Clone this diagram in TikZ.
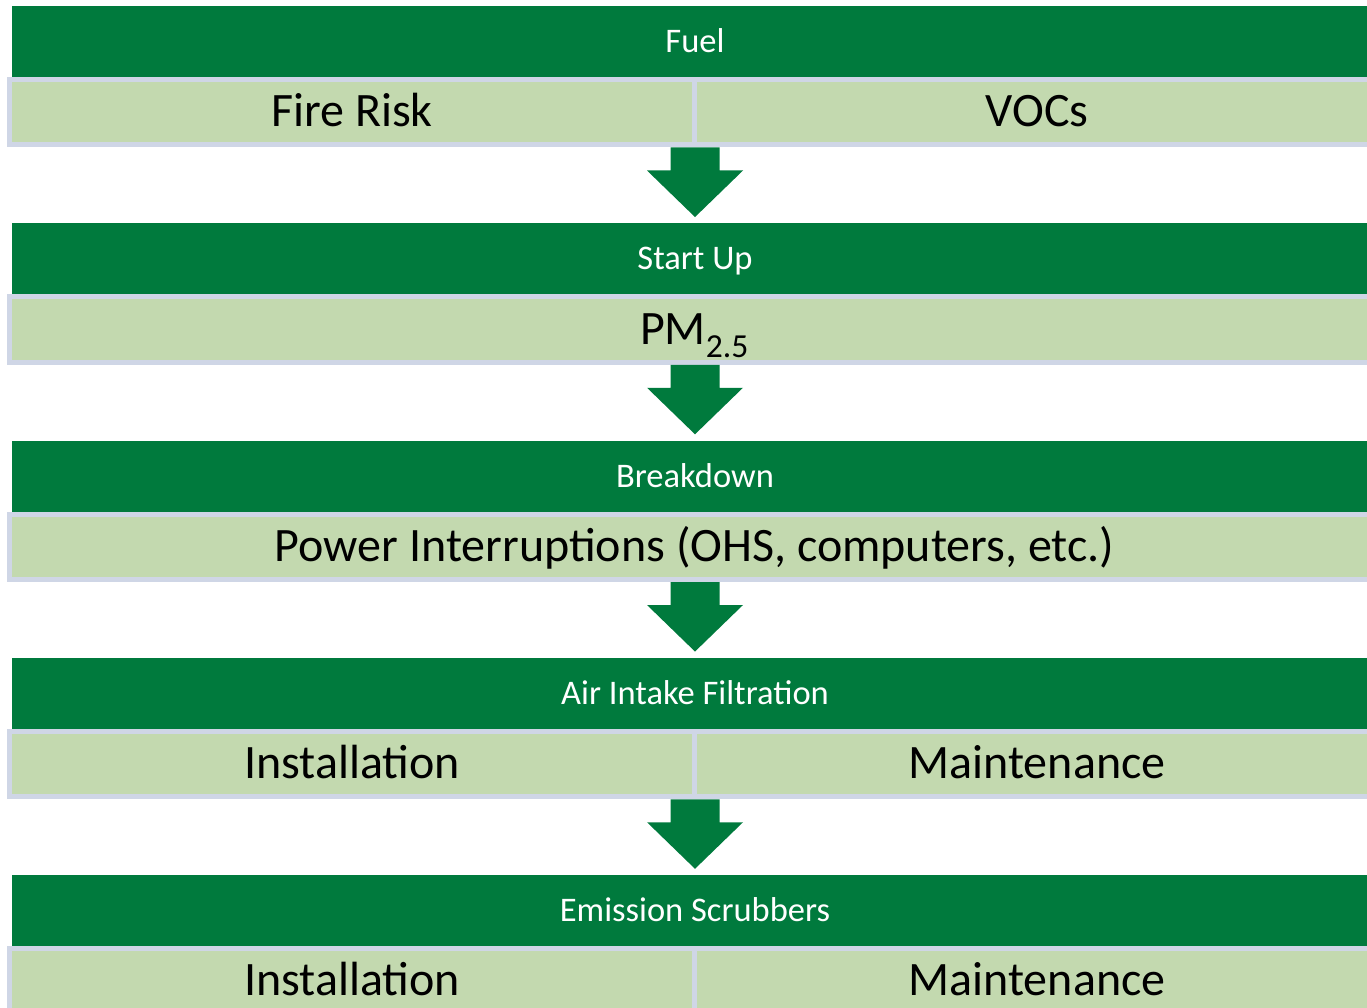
\documentclass[tikz,border=0pt]{standalone}
\usepackage{fontspec}
\setmainfont{Carlito}
\usetikzlibrary{calc}
\definecolor{dkg}{RGB}{0,122,61}
\definecolor{ltg}{RGB}{195,217,175}
\definecolor{lav}{RGB}{207,214,230}
\newcommand\blkarrow[2]{%
  \fill[dkg] ($(#1)+(-24.5,0)$) -- ($(#1)+(24.5,0)$) -- ($(#1)+(24.5,23)$) --
    ($(#1)+(48,23)$) -- ($(#2)+(0,-6)$) -- ($(#1)+(-48,23)$) --
    ($(#1)+(-24.5,23)$) -- cycle;}
\begin{document}
\begin{tikzpicture}[x=1pt,y=-1pt,
  hdr/.style={fill=dkg, text=white, inner sep=0, minimum width=1366, minimum height=71,
    text height=25, text depth=3, font=\fontsize{34.5}{40}\selectfont},
  cell/.style={fill=ltg, draw=lav, line width=5, inner sep=0, minimum height=65.5,
    text height=33, text depth=4, font=\fontsize{48}{54}\selectfont},
  half/.style={cell, minimum width=685},
  full/.style={cell, minimum width=1370}]
\useasboundingbox (0,0) rectangle (1367,1008);
\clip (0,0) rectangle (1367,1008);
% row 1
\node[hdr] (H1) at (695,41.5) {Fuel};
\node[half] (L1) at (352,112.25) {Fire Risk};
\node[half] (R1) at (1037,112.25) {VOCs};
% row 2
\node[hdr] (H2) at (695,258.75) {Start Up};
\node[full] (L2) at (694.5,329.5) {PM\textsubscript{2.5}};
% row 3
\node[hdr] (H3) at (695,476) {Breakdown};
\node[full] (L3) at (694.5,546.75) {Power Interruptions (OHS, computers, etc.)};
% row 4
\node[hdr] (H4) at (695,693.25) {Air Intake Filtration};
\node[half] (L4) at (352,764) {Installation};
\node[half] (R4) at (1037,764) {Maintenance};
% row 5
\node[hdr] (H5) at (695,910.5) {Emission Scrubbers};
\node[half] (L5) at (352,981.25) {Installation};
\node[half] (R5) at (1037,981.25) {Maintenance};
% arrows
\coordinate (a1) at (H1.center |- L1.south);
\coordinate (a2) at (H2.center |- L2.south);
\coordinate (a3) at (H3.center |- L3.south);
\coordinate (a4) at (H4.center |- L4.south);
\blkarrow{a1}{H2.north}
\blkarrow{a2}{H3.north}
\blkarrow{a3}{H4.north}
\blkarrow{a4}{H5.north}
\end{tikzpicture}
\end{document}
